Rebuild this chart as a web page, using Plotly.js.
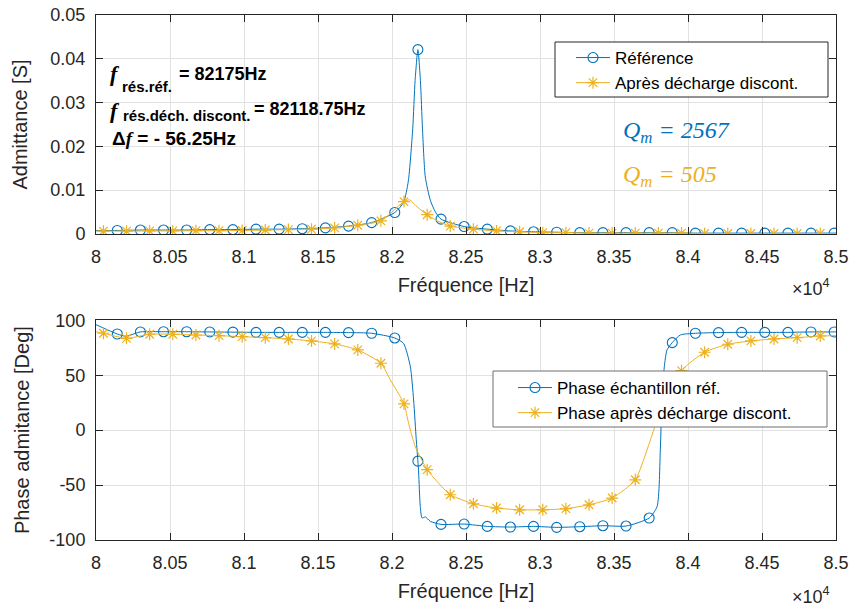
<!DOCTYPE html>
<html><head><meta charset="utf-8">
<script src="https://cdn.plot.ly/plotly-3.0.1.min.js"></script>
<style>html,body{margin:0;padding:0;background:#fff}#chart{width:849px;height:608px}</style>
</head><body><div id="chart"></div>
<script>
// ---------- axis ticks ----------
const freqTicks = [80000, 80500, 81000, 81500, 82000, 82500, 83000, 83500, 84000, 84500, 85000];
const freqTickText = ['8', '8.05', '8.1', '8.15', '8.2', '8.25', '8.3', '8.35', '8.4', '8.45', '8.5'];
const admTicks = [0, 0.01, 0.02, 0.03, 0.04, 0.05];
const admTickText = ['0', '0.01', '0.02', '0.03', '0.04', '0.05'];
const phaseTicks = [-100, -50, 0, 50, 100];
const phaseTickText = ['-100', '-50', '0', '50', '100'];

// ---------- marker positions (Hz) ----------
const refMarkX = [80143.75, 80300, 80456.25, 80612.5, 80768.75, 80925, 81081.25, 81237.5, 81393.75, 81550,
  81706.25, 81862.5, 82018.75, 82175, 82331.25, 82487.5, 82643.75, 82800, 82956.25, 83112.5,
  83268.75, 83425, 83581.25, 83737.5, 83893.75, 84050, 84206.25, 84362.5, 84518.75, 84675, 84831.25, 84987.5];
const decMarkX = [80050, 80206.25, 80362.5, 80518.75, 80675, 80831.25, 80987.5, 81143.75, 81300, 81456.25,
  81612.5, 81768.75, 81925, 82081.25, 82237.5, 82393.75, 82550, 82706.25, 82862.5, 83018.75,
  83175, 83331.25, 83487.5, 83643.75, 83800, 83956.25, 84112.5, 84268.75, 84425, 84581.25, 84737.5, 84893.75];

// ---------- admittance [S] ----------
const refAdmMark = [0.0008, 0.0009, 0.0009, 0.0009, 0.0010, 0.0010, 0.0011, 0.0011, 0.0012, 0.0014,
  0.0018, 0.0026, 0.0049, 0.0421, 0.0034, 0.0017, 0.0011, 0.0007, 0.0005, 0.0004,
  0.0003, 0.0003, 0.0003, 0.0003, 0.0003, 0.0002, 0.0002, 0.0002, 0.0002, 0.0002, 0.0002, 0.0002];
const refAdmLineX = [80000, 82078, 82110, 82140, 82156, 82192, 82206, 82225, 82259, 82292, 85000];
const refAdmLineY = [0.0008, 0.0072, 0.0120, 0.0240, 0.0350, 0.0350, 0.0240, 0.0130, 0.0077, 0.0051, 0.0002];

const decAdmMark = [0.00065, 0.00065, 0.0007, 0.0007, 0.00075, 0.00075, 0.0008, 0.0009, 0.0010, 0.0011,
  0.0014, 0.0020, 0.0030, 0.0074, 0.0044, 0.0018, 0.0011, 0.0007, 0.0005, 0.0003,
  0.0003, 0.0002, 0.0002, 0.0002, 0.0002, 0.0002, 0.0001, 0.0001, 0.0001, 0.0001, 0.0001, 0.0001];
const decAdmLineX = [80000, 82119, 82160, 82195, 82300, 85000];
const decAdmLineY = [0.00065, 0.0078, 0.0065, 0.0055, 0.0031, 0.0001];

// ---------- phase [deg] ----------
const refPhaseMark = [87.5, 89.4, 89.6, 89.6, 89.4, 89.2, 89.0, 89.0, 89.0, 89.0,
  88.8, 88.2, 83.9, -28.2, -85.8, -85.5, -87.6, -88.2, -87.6, -88.5,
  -87.9, -87.0, -87.3, -80.0, 79.7, 88.2, 88.8, 89.0, 89.0, 89.0, 89.4, 89.4];
const refPhaseLineX = [80000, 80203, 82078, 82124, 82146, 82164, 82180, 82191, 82203, 82225, 82259,
  83791, 83813, 83824, 83840, 83858, 83948, 85000];
const refPhaseLineY = [96, 85.5, 79, 57.8, 27.5, -8.8, -39, -69.5, -80, -79, -83,
  -69.5, -17.9, 27.5, 57.8, 73, 86.6, 89.5];

const decPhaseMark = [88.2, 83.6, 87.3, 87.3, 86.6, 86.0, 85.1, 84.2, 83.0, 81.2,
  78.5, 73.0, 60.9, 23.9, -36.0, -58.8, -67.0, -70.9, -72.5, -72.5,
  -71.5, -67.9, -61.8, -45.2, 12.0, 54.2, 70.9, 78.2, 81.2, 83.0, 84.2, 85.7];
const decPhaseLineX = [80000, 81989, 82112, 82157, 82304, 83723, 83768, 85000];
const decPhaseLineY = [89.6, 45.7, 6.4, -15, -46.7, -18, 0, 86];

// ---------- labels ----------
const refName = 'Référence';
const decName = 'Après décharge discont.';
const refPhaseName = 'Phase échantillon réf.';
const decPhaseName = 'Phase après décharge discont.';

const BLUE = '#0072BD', GOLD = '#EDB120', INK = '#262626', GRID = '#e2e2e2';

function merge(x1, y1, x2, y2) {
  const p = x1.map((x, i) => [x, y1[i]]).concat(x2.map((x, i) => [x, y2[i]]));
  p.sort((a, b) => a[0] - b[0]);
  return {x: p.map(q => q[0]), y: p.map(q => q[1])};
}

const circ = {symbol: 'circle-open', size: 10, color: BLUE, line: {color: BLUE, width: 1.1}};
const star = {symbol: 'asterisk-open', size: 10, color: GOLD, line: {color: GOLD, width: 1.2}};

function lineTrace(d, color, xa, ya) {
  return {x: d.x, y: d.y, xaxis: xa, yaxis: ya, mode: 'lines', type: 'scatter',
    line: {color: color, width: 1, shape: 'spline', smoothing: 0.6}, showlegend: false, hoverinfo: 'skip'};
}
function markTrace(x, y, m, xa, ya) {
  return {x: x, y: y, xaxis: xa, yaxis: ya, mode: 'markers', type: 'scatter', marker: m, showlegend: false};
}
function legTrace(name, color, m, xa, ya, leg) {
  return {x: [null], y: [null], xaxis: xa, yaxis: ya, mode: 'lines+markers', type: 'scatter', name: name,
    line: {color: color, width: 1}, marker: m, showlegend: true, legend: leg};
}

const traces = [
  lineTrace(merge(refMarkX, refAdmMark, refAdmLineX, refAdmLineY), BLUE, 'x', 'y'),
  markTrace(refMarkX, refAdmMark, circ, 'x', 'y'),
  lineTrace(merge(decMarkX, decAdmMark, decAdmLineX, decAdmLineY), GOLD, 'x', 'y'),
  markTrace(decMarkX, decAdmMark, star, 'x', 'y'),
  legTrace(refName, BLUE, circ, 'x', 'y', 'legend'),
  legTrace(decName, GOLD, star, 'x', 'y', 'legend'),

  lineTrace(merge(refMarkX, refPhaseMark, refPhaseLineX, refPhaseLineY), BLUE, 'x2', 'y2'),
  markTrace(refMarkX, refPhaseMark, circ, 'x2', 'y2'),
  lineTrace(merge(decMarkX, decPhaseMark, decPhaseLineX, decPhaseLineY), GOLD, 'x2', 'y2'),
  markTrace(decMarkX, decPhaseMark, star, 'x2', 'y2'),
  legTrace(refPhaseName, BLUE, circ, 'x2', 'y2', 'legend2'),
  legTrace(decPhaseName, GOLD, star, 'x2', 'y2', 'legend2')
];

// pixel -> paper helpers (plot area: x 96..836, y 15..540)
const PX = p => (p - 96) / 740;
const PY = p => (540 - p) / 525;

const axisCommon = {
  ticks: 'inside', ticklen: 7, tickcolor: INK, tickwidth: 1,
  showline: true, linecolor: INK, linewidth: 1, mirror: 'ticks',
  showgrid: true, gridcolor: GRID, gridwidth: 1, zeroline: false,
  tickfont: {size: 18, color: INK}
};

function xAxis(anchor) {
  return Object.assign({}, axisCommon, {
    anchor: anchor, domain: [0, 1], range: [80000, 85000],
    tickmode: 'array', tickvals: freqTicks, ticktext: freqTickText, ticklabelstandoff: 6,
    title: {text: 'Fréquence [Hz]', font: {size: 20, color: INK}, standoff: 12}
  });
}

const bold = 'Liberation Sans, Arial, sans-serif';
function ann(text, x, y, size, opts) {
  return Object.assign({text: text, xref: 'paper', yref: 'paper', x: PX(x), y: PY(y),
    xanchor: 'left', yanchor: 'middle', showarrow: false, borderpad: 0,
    font: {family: bold, size: size, color: '#000'}}, opts || {});
}
const serifF = '<span style="font-family:Liberation Serif">f</span>';

function legendBox(x0, y0, x1, y1, color) {
  return {type: 'rect', xref: 'paper', yref: 'paper', x0: PX(x0), x1: PX(x1), y0: PY(y0), y1: PY(y1),
    fillcolor: '#ffffff', line: {color: color, width: 1}, layer: 'above'};
}

const layout = {
  width: 849, height: 608,
  margin: {l: 96, r: 13, t: 15, b: 68},
  paper_bgcolor: '#ffffff', plot_bgcolor: '#ffffff',
  font: {family: 'Liberation Sans, Arial, sans-serif', color: INK},
  xaxis: xAxis('y'),
  yaxis: Object.assign({}, axisCommon, {
    anchor: 'x', domain: [0.5829, 1], range: [0, 0.05],
    tickmode: 'array', tickvals: admTicks, ticktext: admTickText, ticklabelstandoff: 6,
    title: {text: 'Admittance [S]', font: {size: 20, color: INK}, standoff: 17}
  }),
  xaxis2: xAxis('y2'),
  yaxis2: Object.assign({}, axisCommon, {
    anchor: 'x2', domain: [0, 0.4185], range: [-100, 100],
    tickmode: 'array', tickvals: phaseTicks, ticktext: phaseTickText, ticklabelstandoff: 6,
    title: {text: 'Phase admitance [Deg]', font: {size: 20, color: INK}, standoff: 14}
  }),
  shapes: [
    legendBox(555, 42, 828, 97, INK),
    legendBox(493, 371, 827, 427, '#6e6e6e')
  ],
  legend: {x: PX(571), y: PY(40), xanchor: 'left', yanchor: 'top', bgcolor: 'rgba(0,0,0,0)',
    borderwidth: 0, font: {size: 17, color: '#000'}, itemwidth: 34},
  legend2: {x: PX(513), y: PY(370), xanchor: 'left', yanchor: 'top', bgcolor: 'rgba(0,0,0,0)',
    borderwidth: 0, font: {size: 17, color: '#000'}, itemwidth: 34},
  annotations: [
    ann('<b><i>' + serifF + '</i></b>', 109, 74, 22),
    ann('<b>rés.réf.</b>', 121, 87, 15),
    ann('<b>= 82175Hz</b>', 178, 74, 18),
    ann('<b><i>' + serifF + '</i></b>', 109, 110, 22),
    ann('<b>rés.déch. discont.</b>', 122, 115, 15),
    ann('<b>= 82118.75Hz</b>', 253, 109, 18),
    ann('<b>Δ<i>' + serifF + '</i> = - 56.25Hz</b>', 111, 138, 19),
    ann('<i>Q<sub>m</sub> = 2567</i>', 622, 132, 24, {font: {family: 'Liberation Serif, serif', size: 24, color: BLUE}}),
    ann('<i>Q<sub>m</sub> = 505</i>', 622, 176, 24, {font: {family: 'Liberation Serif, serif', size: 24, color: GOLD}}),
    ann('×10<sup>4</sup>', 791, 287, 18, {font: {family: bold, size: 18, color: INK}}),
    ann('×10<sup>4</sup>', 791, 595, 18, {font: {family: bold, size: 18, color: INK}})
  ]
};

Plotly.newPlot('chart', traces, layout, {staticPlot: true, displayModeBar: false});
</script>
</body></html>
